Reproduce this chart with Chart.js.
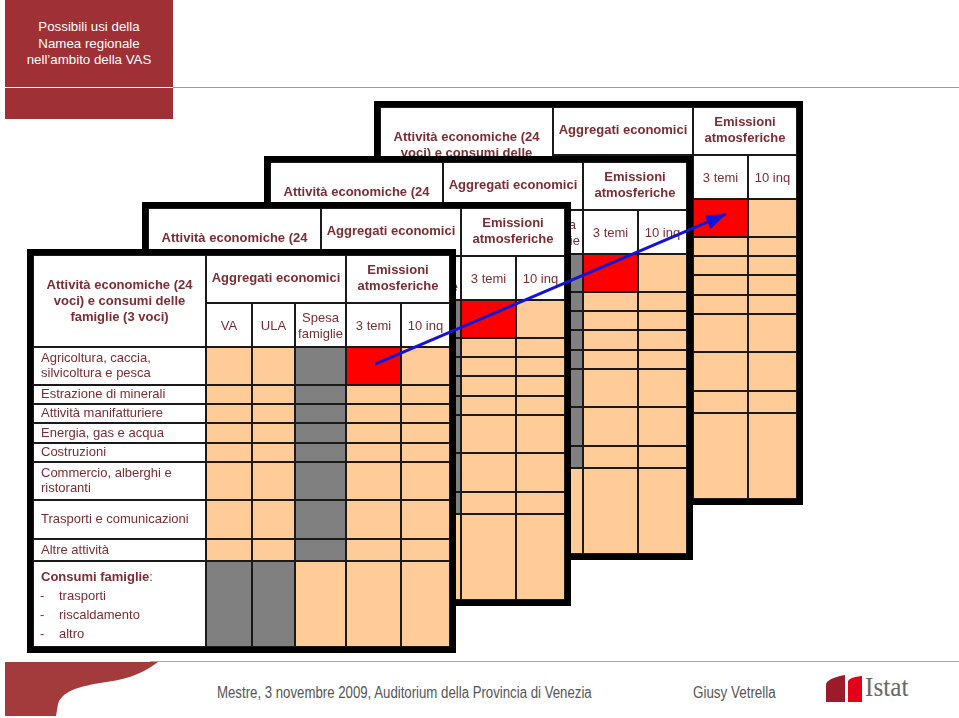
<!DOCTYPE html>
<html>
<head>
<meta charset="utf-8">
<script src="https://cdn.jsdelivr.net/npm/chart.js@4.4.0/dist/chart.umd.min.js"></script>
<style>
  html, body { margin: 0; padding: 0; background: #fff; }
  #slide { position: relative; width: 959px; height: 718px; overflow: hidden; font-family: "Liberation Sans", Arial, sans-serif; }
  .layer { position: absolute; }
  .layer canvas { display: block; }
  #titleBox { position: absolute; left: 5px; top: 0; width: 168px; height: 119px; background: #9f3035; color: #fff;
    font-size: 13.3px; line-height: 16.5px; text-align: center; }
  #titleBox .txt { position: absolute; left: 0; right: 0; top: 19px; }
  #titleBox .cut { position: absolute; left: 0; right: 0; top: 87px; height: 1px; background: #fff; }
  #topRule { position: absolute; left: 173px; top: 87px; width: 786px; height: 1px; background: #9a9a9a; }
  #footRule { position: absolute; left: 150px; top: 661px; width: 809px; height: 1px; background: #a8a8a8; }
  .foot { position: absolute; top: 684px; font-family: "Liberation Sans", Arial, sans-serif;
    font-size: 16px; color: #555; white-space: nowrap; transform-origin: 0 0; }
  #istat { position: absolute; left: 865px; top: 671px; font-family: "Liberation Serif", serif; font-size: 28px; color: #666;
    transform: scaleX(0.9); transform-origin: 0 0; }
  #deco { position: absolute; left: 0; top: 0; }
</style>
</head>
<body>
<div id="slide">
  <svg id="deco" width="959" height="718">
    <path d="M5,662 L158,662 C140,676 122,680 100,683 C76,687 62,692 58,704 L56,716 L5,716 Z" fill="#a33a3c"/>
    <path d="M826,702 L826,684 Q828,678 845,675 L845,702 Z" fill="#9b1b2a"/>
    <path d="M848,702 L848,681 Q850,677 862,676 L862,702 Z" fill="#e2001a"/>
  </svg>
  <div id="titleBox"><div class="txt">Possibili usi della<br>Namea regionale<br>nell’ambito della VAS</div><div class="cut"></div></div>
  <div id="topRule"></div>
  <div id="footRule"></div>
  <div class="foot" data-w="375" style="left:217px">Mestre, 3 novembre 2009, Auditorium della Provincia di Venezia</div>
  <div class="foot" data-w="83" style="left:693px">Giusy Vetrella</div>
  <div id="istat">Istat</div>
</div>
<script>
// Stacked copies of the NAMEA table, back to front, with an arrow linking the red cells

// ---- table content ----
const labelHeader = ['Attività economiche (24', 'voci) e consumi delle', 'famiglie (3 voci)'];
const groupHeaders = [['Aggregati economici'], ['Emissioni', 'atmosferiche']];
const groupSpans = [3, 2];
const subHeaders = [['VA'], ['ULA'], ['Spesa', 'famiglie'], ['3 temi'], ['10 inq']];
const rowLabels = [
    ['Agricoltura, caccia,', 'silvicoltura e pesca'],
    ['Estrazione di minerali'],
    ['Attività manifatturiere'],
    ['Energia, gas e acqua'],
    ['Costruzioni'],
    ['Commercio, alberghi e', 'ristoranti'],
    ['Trasporti e comunicazioni'],
    ['Altre attività']
];
const consumiTitle = 'Consumi famiglie';
const consumiItems = ['trasporti', 'riscaldamento', 'altro'];

// P = available (peach), G = not applicable (grey), R = highlighted (red)
const cellState = [
    ['P', 'P', 'G', 'R', 'P'],
    ['P', 'P', 'G', 'P', 'P'],
    ['P', 'P', 'G', 'P', 'P'],
    ['P', 'P', 'G', 'P', 'P'],
    ['P', 'P', 'G', 'P', 'P'],
    ['P', 'P', 'G', 'P', 'P'],
    ['P', 'P', 'G', 'P', 'P'],
    ['P', 'P', 'G', 'P', 'P'],
    ['G', 'G', 'P', 'P', 'P']
];

// ---- layout ----
const BASE_X = 33, BASE_Y = 255;       // inner top-left corner of the front table
const FRAME = 6;
const layerOffsets = [[347, -148], [237, -93], [115, -47], [0, 0]];   // back to front
const colWidths = [173, 46, 43, 51, 55, 49];
const rowHeights = [48, 44, 38, 19, 19, 20, 19, 38, 39, 22, 86];

const stateColor = { P: '#ffcc99', G: '#808080', R: '#ff0000' };
const TEXT = '#7b2c34';
const FONT = '"Liberation Sans", Arial, sans-serif';

const colEdges = [0];
colWidths.forEach(w => colEdges.push(colEdges[colEdges.length - 1] + w));
const rowEdges = [0];
rowHeights.forEach(h => rowEdges.push(rowEdges[rowEdges.length - 1] + h));
const TABLE_W = colEdges[colEdges.length - 1];
const TABLE_H = rowEdges[rowEdges.length - 1];
const colMid = c => (colEdges[c] + colEdges[c + 1]) / 2;

// footer lines are set in a narrow face in the original: squeeze to width
document.querySelectorAll('.foot').forEach(el => {
    const target = +el.dataset.w;
    el.style.transform = 'scaleX(' + (target / el.offsetWidth).toFixed(3) + ')';
});

function buildDatasets() {
    const sets = [];

    // label column: header over two rows, then one white cell per body row
    const labelData = [{ x: colMid(0), y: [0, rowEdges[2]] }];
    cellState.forEach((row, r) => labelData.push({ x: colMid(0), y: [rowEdges[r + 2], rowEdges[r + 3]] }));
    sets.push({ data: labelData, backgroundColor: '#ffffff', barThickness: colWidths[0] });

    // group headers
    let c = 1;
    groupSpans.forEach(span => {
        const x0 = colEdges[c], x1 = colEdges[c + span];
        sets.push({ data: [{ x: (x0 + x1) / 2, y: [0, rowEdges[1]] }], backgroundColor: '#ffffff', barThickness: x1 - x0 });
        c += span;
    });

    // value columns: sub header + coloured cells
    for (let k = 1; k < colWidths.length; k++) {
        const data = [{ x: colMid(k), y: [rowEdges[1], rowEdges[2]] }];
        const colors = ['#ffffff'];
        cellState.forEach((row, r) => {
            data.push({ x: colMid(k), y: [rowEdges[r + 2], rowEdges[r + 3]] });
            colors.push(stateColor[row[k - 1]]);
        });
        sets.push({ data: data, backgroundColor: colors, barThickness: colWidths[k] });
    }

    return sets.map(s => Object.assign({
        borderColor: '#1a1a1a',
        borderWidth: 1,
        borderSkipped: false,
        inflateAmount: 0,
        grouped: false
    }, s));
}

function drawLines(ctx, lines, cx, cy, step) {
    const start = cy - (lines.length - 1) * step / 2;
    lines.forEach((t, i) => ctx.fillText(t, cx, start + i * step));
}

const tableText = {
    id: 'tableText',
    afterDatasetsDraw(chart) {
        const { ctx, scales: { x, y } } = chart;
        const px = v => x.getPixelForValue(v);
        const py = v => y.getPixelForValue(v);
        ctx.save();
        ctx.fillStyle = TEXT;
        ctx.textBaseline = 'middle';

        // headers
        ctx.textAlign = 'center';
        ctx.font = 'bold 13px ' + FONT;
        drawLines(ctx, labelHeader, px(colMid(0)), py(rowEdges[2] / 2), 16);
        let c = 1;
        groupHeaders.forEach((lines, g) => {
            const span = groupSpans[g];
            drawLines(ctx, lines, px((colEdges[c] + colEdges[c + span]) / 2), py(rowEdges[1] / 2) - 1, 16);
            c += span;
        });
        ctx.font = '13px ' + FONT;
        subHeaders.forEach((lines, k) => {
            drawLines(ctx, lines, px(colMid(k + 1)), py((rowEdges[1] + rowEdges[2]) / 2) + 1, 16);
        });

        // body labels
        ctx.textAlign = 'left';
        const lx = px(8);
        rowLabels.forEach((lines, r) => {
            drawLines(ctx, lines, lx, py((rowEdges[r + 2] + rowEdges[r + 3]) / 2), 15);
        });

        // household consumption block
        const cr = rowLabels.length + 2;
        const top = rowEdges[cr];
        ctx.font = 'bold 13px ' + FONT;
        ctx.fillText(consumiTitle, lx, py(top + 16));
        const w = ctx.measureText(consumiTitle).width;
        ctx.font = '13px ' + FONT;
        ctx.fillText(':', lx + w, py(top + 16));
        consumiItems.forEach((t, i) => {
            ctx.fillText('-', px(7), py(top + 35 + i * 19));
            ctx.fillText(t, px(26), py(top + 35 + i * 19));
        });

        // thick frame
        ctx.lineWidth = FRAME;
        ctx.strokeStyle = '#000';
        ctx.strokeRect(px(0) - FRAME / 2, py(0) - FRAME / 2, px(TABLE_W) - px(0) + FRAME, py(TABLE_H) - py(0) + FRAME);
        ctx.restore();
    }
};

const slide = document.getElementById('slide');

layerOffsets.forEach((off, i) => {
    const div = document.createElement('div');
    div.className = 'layer';
    div.style.left = (BASE_X + off[0] - FRAME) + 'px';
    div.style.top = (BASE_Y + off[1] - FRAME) + 'px';
    const canvas = document.createElement('canvas');
    canvas.width = TABLE_W + 2 * FRAME;
    canvas.height = TABLE_H + 2 * FRAME;
    div.appendChild(canvas);
    slide.appendChild(div);

    new Chart(canvas.getContext('2d'), {
        type: 'bar',
        data: { datasets: buildDatasets() },
        options: {
            responsive: false,
            animation: false,
            devicePixelRatio: 1,
            layout: { padding: 0 },
            plugins: { legend: { display: false }, tooltip: { enabled: false } },
            scales: {
                x: { type: 'linear', display: false, offset: false, min: -FRAME, max: TABLE_W + FRAME },
                y: { type: 'linear', display: false, reverse: true, min: -FRAME, max: TABLE_H + FRAME }
            }
        },
        plugins: [tableText]
    });
});

// ---- arrow from the red cell of the front table to the red cell of the back table ----
const redRow = cellState.findIndex(r => r.includes('R'));
const redCol = cellState[redRow].indexOf('R') + 1;
function redCellPoint(layer, fx, fy) {
    const off = layerOffsets[layer];
    return {
        x: BASE_X + off[0] + colEdges[redCol] + fx * colWidths[redCol],
        y: BASE_Y + off[1] + rowEdges[redRow + 2] + fy * rowHeights[redRow + 2]
    };
}
const arrowPoints = [redCellPoint(layerOffsets.length - 1, 0.53, 0.45), redCellPoint(0, 0.6, 0.4)];

const arrowHead = {
    id: 'arrowHead',
    afterDatasetsDraw(chart) {
        const pts = chart.getDatasetMeta(0).data;
        const a = pts[0], b = pts[pts.length - 1];
        const ang = Math.atan2(b.y - a.y, b.x - a.x);
        const len = 20, half = 7.5;
        const ctx = chart.ctx;
        ctx.save();
        ctx.fillStyle = '#1414d8';
        ctx.beginPath();
        ctx.moveTo(b.x, b.y);
        ctx.lineTo(b.x - len * Math.cos(ang) + half * Math.sin(ang), b.y - len * Math.sin(ang) - half * Math.cos(ang));
        ctx.lineTo(b.x - len * Math.cos(ang) - half * Math.sin(ang), b.y - len * Math.sin(ang) + half * Math.cos(ang));
        ctx.closePath();
        ctx.fill();
        ctx.restore();
    }
};

const arrowDiv = document.createElement('div');
arrowDiv.className = 'layer';
arrowDiv.style.left = '0px';
arrowDiv.style.top = '0px';
const arrowCanvas = document.createElement('canvas');
arrowCanvas.width = 959;
arrowCanvas.height = 718;
arrowDiv.appendChild(arrowCanvas);
slide.appendChild(arrowDiv);

new Chart(arrowCanvas.getContext('2d'), {
    type: 'line',
    data: {
        datasets: [{
            data: arrowPoints,
            borderColor: '#1414d8',
            borderWidth: 3,
            pointRadius: 0,
            fill: false
        }]
    },
    options: {
        responsive: false,
        animation: false,
        devicePixelRatio: 1,
        layout: { padding: 0 },
        plugins: { legend: { display: false }, tooltip: { enabled: false } },
        scales: {
            x: { type: 'linear', display: false, min: 0, max: 959 },
            y: { type: 'linear', display: false, reverse: true, min: 0, max: 718 }
        }
    },
    plugins: [arrowHead]
});
</script>
</body>
</html>
